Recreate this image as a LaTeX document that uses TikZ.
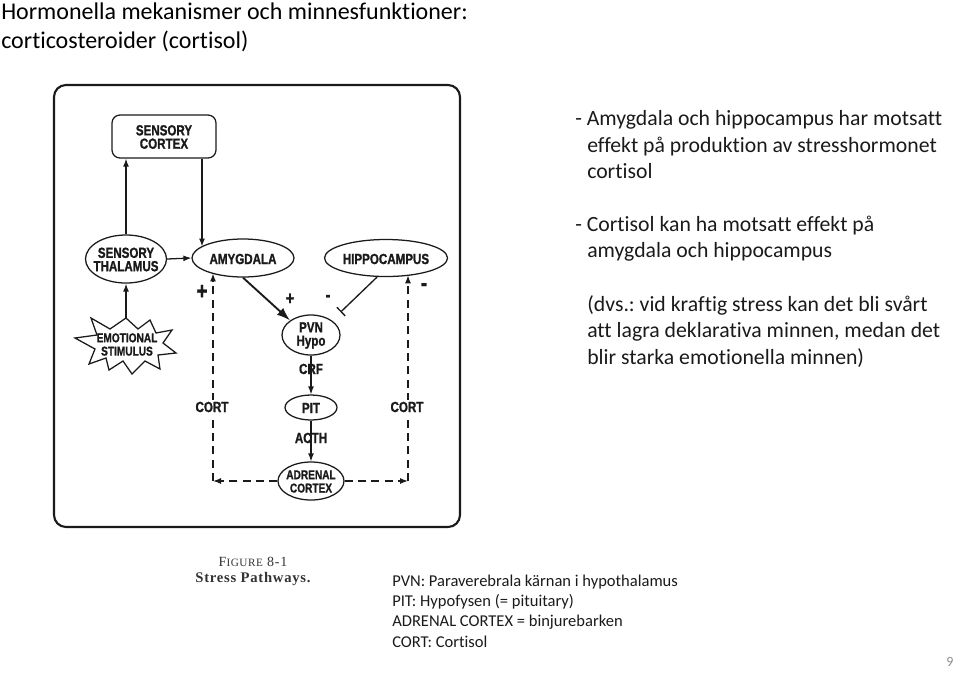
\documentclass[tikz,border=0pt]{standalone}
\usepackage{fontspec}
\setmainfont[Ligatures=NoCommon]{Carlito}
\newfontfamily\diagfont[FakeStretch=0.79, BoldFeatures={FakeBold=1.2}]{Liberation Sans}
\newfontfamily\capfont[LetterSpace=5]{Liberation Serif}
\usetikzlibrary{shapes.geometric,arrows.meta}
\definecolor{linec}{HTML}{1A1A1A}
\definecolor{bodyc}{HTML}{1A1A1A}
\definecolor{capc}{HTML}{333333}
\definecolor{pagec}{HTML}{8C8C8C}
\frenchspacing
\tikzset{
  diag/.style={font=\diagfont\bfseries\fontsize{11}{10}\selectfont, align=center, inner sep=0, text=linec},
  diagsm/.style={diag, font=\diagfont\bfseries\fontsize{9.6}{10}\selectfont},
  blob/.style={ellipse, draw=linec, line width=0.95pt, inner sep=0},
  arr/.style={draw=linec, line width=0.95pt, -{Latex[length=6pt,width=4.5pt]}},
  darr/.style={arr, dash pattern=on 6pt off 4pt},
  bigarr/.style={draw=linec, line width=1.4pt, -{Latex[length=10pt,width=7pt]}},
  inhib/.style={draw=linec, line width=1pt, -{Bar[width=9pt,line width=1pt]}},
  sign/.style={font=\diagfont\bfseries\fontsize{14}{14}\selectfont, inner sep=0, text=linec},
  signbig/.style={font=\diagfont\bfseries\fontsize{18}{18}\selectfont, inner sep=0, text=linec},
  ttl/.style={anchor=base west, inner sep=0, font=\fontsize{18}{22}\selectfont},
  body/.style={anchor=base west, inner sep=0, font=\fontsize{16.3}{19.9}\selectfont, text=bodyc},
  legend/.style={anchor=base west, inner sep=0, font=\fontsize{12.4}{15.2}\selectfont, text=bodyc},
  capbox/.style={inner sep=0, text=capc},
}
\begin{document}
\begin{tikzpicture}[x=0.75pt,y=-0.75pt]
\useasboundingbox (0,0) rectangle (960,672);

% title
\node[ttl] (t1) at (1,19) {Hormonella mekanismer och minnesfunktioner:};
\node[ttl] (t2) at (1,48) {corticosteroider (cortisol)};

% frame
\draw[draw=linec, line width=1.6pt, rounded corners=9pt] (54,85) rectangle (460,527);

% nodes
\node[draw=linec, line width=0.95pt, rounded corners=6pt, minimum width=78pt, minimum height=32.25pt, inner sep=0] (ctx) at (164,136.5) {};
\node[diag] (ctxT) at (164,137) {SENSORY\\CORTEX};
\node[blob, minimum width=60.75pt, minimum height=36pt] (thal) at (126,259) {};
\node[diag] (thalT) at (126,259.5) {SENSORY\\THALAMUS};
\node[blob, minimum width=76.5pt, minimum height=28.5pt] (amy) at (243,258) {};
\node[diag] (amyT) at (243,259) {AMYGDALA};
\node[blob, minimum width=92.25pt, minimum height=27.75pt] (hip) at (386,258) {};
\node[diag] (hipT) at (386,259) {HIPPOCAMPUS};
\node[blob, minimum width=43.5pt, minimum height=30pt] (pvn) at (311,335) {};
\node[diag] (pvnT) at (311,335.5) {PVN\\Hypo};
\node[blob, minimum width=39pt, minimum height=18.75pt] (pit) at (311,407.5) {};
\node[diag] (pitT) at (311,408) {PIT};
\node[blob, minimum width=49.5pt, minimum height=28.5pt] (adr) at (311,481) {};
\node[diagsm] (adrT) at (311,481.5) {ADRENAL\\CORTEX};

% star
\draw[draw=linec, line width=0.95pt, line join=miter]
  (75,338) -- (97,335) -- (91,318) -- (110,329) -- (126,318) -- (138,329) -- (150,320)
  -- (156,333) -- (172,330) -- (163,343) -- (176,353) -- (158,355) -- (160,369)
  -- (145,361) -- (132,374) -- (123,361) -- (109,370) -- (106,358) -- (89,364)
  -- (95,349) -- cycle;
\node[diagsm] (emoT) at (127,344.5) {EMOTIONAL\\STIMULUS};
\coordinate (emoTop) at (126,318);

% arrows
\draw[arr] (emoTop) -- (thal.south);
\draw[arr] (thal.north) -- (thal.north |- ctx.south);
\coordinate (amyIn) at (202,246.5);
\draw[arr] (ctx.south -| amyIn) -- (amyIn);
\draw[arr] (thal.east) -- (amy.west);
\draw[bigarr] (amy.south) -- (pvn.north west);
\draw[inhib, shorten >=9pt] (hip.245) -- (pvn.north east);

\draw[arr] (pvn.south) -- (pit.north);
\node[diag] (crf) at (311,369) {CRF};
\draw[arr] (pit.south) -- (adr.north);
\node[diag] (acth) at (311,438) {ACTH};

% feedback
\coordinate (cl) at (213,481);
\coordinate (cr) at (408,481);
\coordinate (amyL) at (213,273.4);
\coordinate (hipR) at (408,275.3);
\draw[darr] (adr.west) -- (cl);
\draw[darr] (cl) -- (amyL);
\draw[darr] (adr.east) -- (cr);
\draw[darr] (cr) -- (hipR);
\node[diag, fill=white, inner sep=1.5pt] (cortL) at (212,407) {CORT};
\node[diag, fill=white, inner sep=1.5pt] (cortR) at (407,407) {CORT};

% signs
\node[signbig] (pl1) at (202,292) {+};
\node[signbig] (mi1) at (424,287) {-};
\node[sign] (pl2) at (290,299) {+};
\node[sign] (mi2) at (328,298) {-};

% caption
\node[capbox] (fig) at (253,562) {\capfont\fontsize{10.5}{12}\selectfont F{\fontsize{8.4}{10}\selectfont IGURE} 8-1};
\node[capbox] (figT) at (253,579) {\capfont\bfseries\fontsize{11}{13}\selectfont Stress Pathways.};

% right text
\node[body] (b1) at (575,125) {- Amygdala och hippocampus har motsatt};
\node[body] (b2) at (587,152) {effekt på produktion av stresshormonet};
\node[body] (b3) at (587,178.5) {cortisol};
\node[body] (b4) at (575,231) {- Cortisol kan ha motsatt effekt på};
\node[body] (b5) at (587,257) {amygdala och hippocampus};
\node[body] (b6) at (587,311) {(dvs.: vid kraftig stress kan det bli svårt};
\node[body] (b7) at (587,337.5) {att lagra deklarativa minnen, medan det};
\node[body] (b8) at (587,364) {blir starka emotionella minnen)};

% legend
\node[legend] (l1) at (392,586) {PVN: Paraverebrala kärnan i hypothalamus};
\node[legend] (l2) at (392,606) {PIT: Hypofysen (= pituitary)};
\node[legend] (l3) at (392,626) {ADRENAL CORTEX = binjurebarken};
\node[legend] (l4) at (392,647) {CORT: Cortisol};

% page number
\node[anchor=base, inner sep=0, text=pagec, font=\fontsize{10.5}{12}\selectfont] (pg) at (950,666) {9};
\end{tikzpicture}
\end{document}
